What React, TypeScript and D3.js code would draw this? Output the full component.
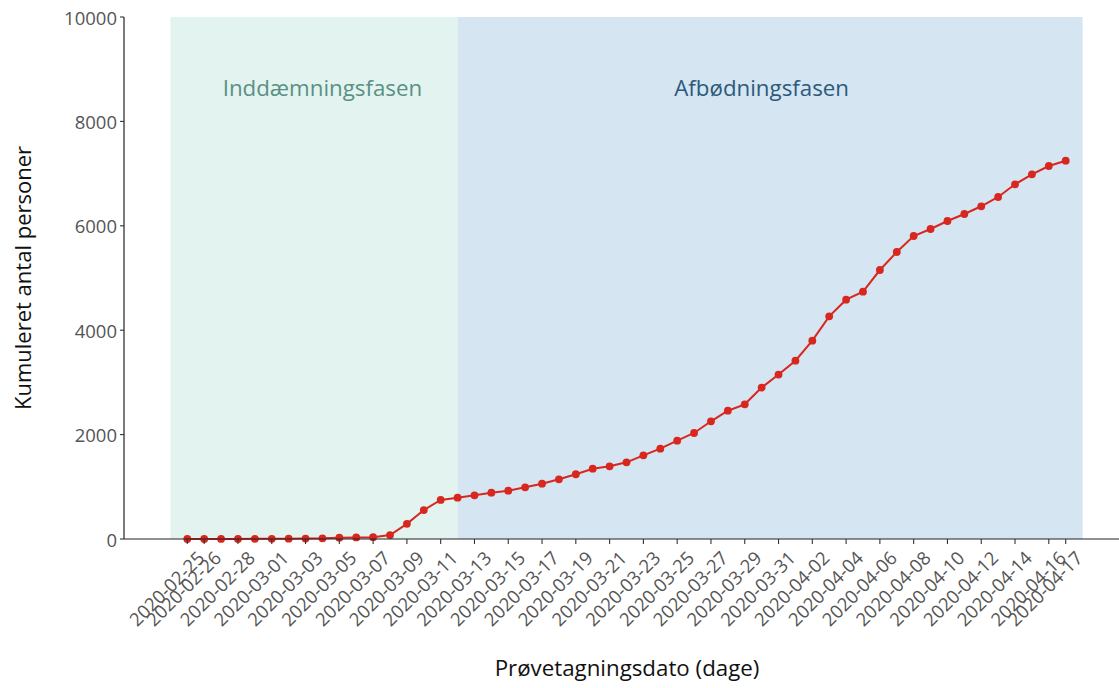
import React from "react";
import * as d3 from "d3";

const dates: string[] = [
  "2020-02-25","2020-02-26","2020-02-27","2020-02-28","2020-02-29",
  "2020-03-01","2020-03-02","2020-03-03","2020-03-04","2020-03-05","2020-03-06","2020-03-07","2020-03-08","2020-03-09","2020-03-10",
  "2020-03-11","2020-03-12","2020-03-13","2020-03-14","2020-03-15","2020-03-16","2020-03-17","2020-03-18","2020-03-19","2020-03-20",
  "2020-03-21","2020-03-22","2020-03-23","2020-03-24","2020-03-25","2020-03-26","2020-03-27","2020-03-28","2020-03-29","2020-03-30","2020-03-31",
  "2020-04-01","2020-04-02","2020-04-03","2020-04-04","2020-04-05","2020-04-06","2020-04-07","2020-04-08","2020-04-09","2020-04-10",
  "2020-04-11","2020-04-12","2020-04-13","2020-04-14","2020-04-15","2020-04-16","2020-04-17",
];

const cumulative: number[] = [
  0, 0, 1, 2, 3,
  4, 6, 8, 12, 25, 30, 35, 75, 290, 555,
  748, 791, 837, 887, 925, 990, 1059, 1144, 1240, 1347,
  1393, 1469, 1603, 1730, 1883, 2031, 2255, 2458, 2580, 2900, 3150,
  3416, 3799, 4266, 4585, 4738, 5153, 5498, 5805, 5939, 6092,
  6226, 6374, 6552, 6795, 6987, 7146, 7247,
];

const xTickLabels: string[] = [
  "2020-02-25","2020-02-26","2020-02-28","2020-03-01","2020-03-03","2020-03-05","2020-03-07","2020-03-09",
  "2020-03-11","2020-03-13","2020-03-15","2020-03-17","2020-03-19","2020-03-21","2020-03-23","2020-03-25",
  "2020-03-27","2020-03-29","2020-03-31","2020-04-02","2020-04-04","2020-04-06","2020-04-08","2020-04-10",
  "2020-04-12","2020-04-14","2020-04-16","2020-04-17",
];

const yTicks: number[] = [0, 2000, 4000, 6000, 8000, 10000];

const phaseNames: string[] = ["Inddæmningsfasen", "Afbødningsfasen"];
const phaseStarts: string[] = ["2020-02-24", "2020-03-12"];
const phaseEnds: string[] = ["2020-03-12", "2020-04-18"];
const phaseLabelDates: string[] = ["2020-03-04", "2020-03-30"];
const phaseLabelValue = 8600;

const W = 1119;
const H = 688;
const FONT = "'Open Sans', 'Noto Sans', sans-serif";

export default function App() {
  const parse = (s: string) => new Date(s + "T00:00:00Z");
  const left = 124;
  const right = 1119;
  const top = 17;
  const bottom = 539;

  const x = d3
    .scaleUtc()
    .domain([parse("2020-02-25"), parse("2020-04-17")])
    .range([187.3, 1065.7]);
  const y = d3.scaleLinear().domain([0, 10000]).range([bottom, top]);

  const pts = dates.map((d, i) => ({ d: parse(d), v: cumulative[i] }));
  const line = d3
    .line<{ d: Date; v: number }>()
    .x((p) => x(p.d))
    .y((p) => y(p.v));

  const phaseFill = ["#e3f3ef", "#d5e5f1"];
  const phaseText = ["#5a9084", "#2c5a7c"];
  const red = "#d8271f";

  return (
    <svg
      width={W}
      height={H}
      style={{ position: "absolute", left: 0, top: 0, background: "#fff" }}
      fontFamily={FONT}
    >
      {phaseNames.map((n, i) => (
        <rect
          key={"r" + i}
          x={x(parse(phaseStarts[i]))}
          y={y(10000)}
          width={x(parse(phaseEnds[i])) - x(parse(phaseStarts[i]))}
          height={y(0) - y(10000)}
          fill={phaseFill[i]}
        />
      ))}
      {phaseNames.map((n, i) => (
        <text
          key={"t" + i}
          x={x(parse(phaseLabelDates[i]))}
          y={y(phaseLabelValue)}
          textAnchor="middle"
          dominantBaseline="middle"
          fontSize={22.3}
          fill={phaseText[i]}
        >
          {n}
        </text>
      ))}

      <path d={line(pts) || ""} fill="none" stroke={red} strokeWidth={2} />
      {pts.map((p, i) => (
        <circle key={"c" + i} cx={x(p.d)} cy={y(p.v)} r={3.9} fill={red} />
      ))}

      {/* y axis */}
      <line x1={left} x2={left} y1={top} y2={bottom} stroke="#222" strokeWidth={1.2} />
      {yTicks.map((t) => (
        <g key={"y" + t}>
          <line x1={left - 4} x2={left} y1={y(t)} y2={y(t)} stroke="#333" strokeWidth={1.1} />
          <text
            x={left - 7}
            y={y(t)}
            textAnchor="end"
            dominantBaseline="central"
            fontSize={18.5}
            fill="#555"
          >
            {t}
          </text>
        </g>
      ))}

      {/* x axis */}
      <line x1={left} x2={right} y1={bottom} y2={bottom} stroke="#222" strokeWidth={1.2} />
      {xTickLabels.map((t) => {
        const tx = x(parse(t));
        return (
          <g key={"x" + t}>
            <line x1={tx} x2={tx} y1={bottom} y2={bottom + 5} stroke="#333" strokeWidth={1.1} />
            <text
              transform={`translate(${tx + 7},${bottom + 9}) rotate(-45)`}
              textAnchor="end"
              dominantBaseline="hanging"
              fontSize={18.5}
              fill="#555"
            >
              {t}
            </text>
          </g>
        );
      })}

      <text
        x={627}
        y={670}
        textAnchor="middle"
        dominantBaseline="middle"
        fontSize={22.3}
        fill="#111"
      >
        Prøvetagningsdato (dage)
      </text>
      <text
        transform={`translate(25,278) rotate(-90)`}
        textAnchor="middle"
        dominantBaseline="middle"
        fontSize={22}
        fill="#111"
      >
        Kumuleret antal personer
      </text>
    </svg>
  );
}
